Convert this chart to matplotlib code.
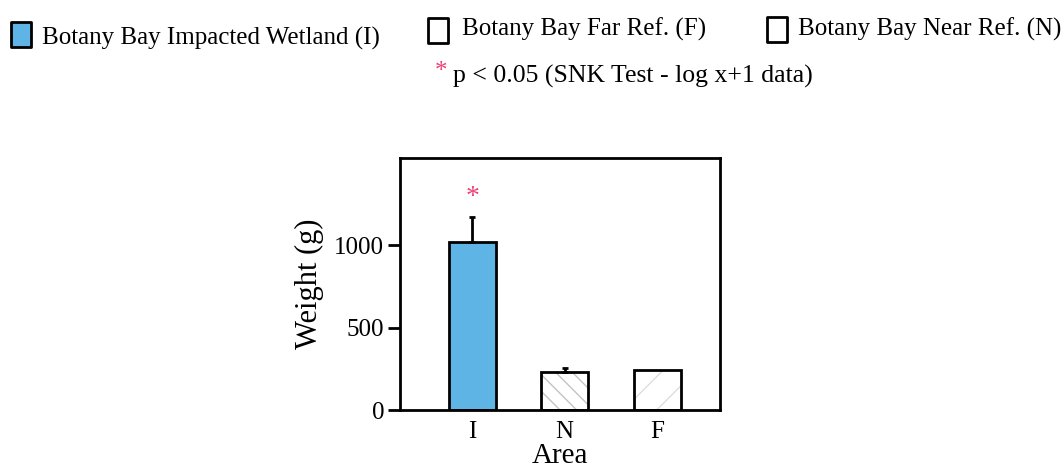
import matplotlib
matplotlib.use("Agg")
import matplotlib.pyplot as plt
from matplotlib.patches import Rectangle

plt.rcParams['font.family'] = ['Liberation Serif', 'DejaVu Serif']

# data
areas = ['I', 'N', 'F']
weights = [1020, 228, 242]
errors = [150, 25, 0]
legend_labels = ['Botany Bay Impacted Wetland (I)', 'Botany Bay Far Ref. (F)',
                 'Botany Bay Near Ref. (N)']
note = 'p < 0.05 (SNK Test - log x+1 data)'

blue = '#5fb4e6'
star_col = '#ee3f73'
W, H = 1064, 473

fig = plt.figure(figsize=(W / 100, H / 100), dpi=100)
ax = fig.add_axes([400 / W, 1 - 410 / H, 320 / W, 252 / H])

x = range(len(areas))
faces = [blue, 'white', 'white']
hatches = [None, '\\\\', '/']
hatch_cols = ['#c8c8c8', '#c4c4c4', '#dedede']
for xi, w, fc, h, hc in zip(x, weights, faces, hatches, hatch_cols):
    ax.bar(xi, w, width=0.51, color=fc, hatch=h, edgecolor=hc, linewidth=0)
    ax.bar(xi, w, width=0.51, fill=False, edgecolor='black', linewidth=2, zorder=3)
for xi, w, e in zip(x, weights, errors):
    if e > 0:
        ax.errorbar(xi, w, yerr=[[0], [e]], color='black', capsize=2.5,
                    elinewidth=2, capthick=2, zorder=4)

ax.text(0, weights[0] + errors[0] + 120, '*', color=star_col, ha='center',
        va='center', fontsize=20)

ax.set_xlim(-0.78, 2.68)
ax.set_ylim(0, 1530)
ax.set_yticks([0, 500, 1000])
ax.set_xticks(list(x))
ax.set_xticklabels(areas)
ax.tick_params(axis='y', direction='out', length=8.5, width=2, labelsize=18, pad=3)
ax.tick_params(axis='x', length=0, labelsize=18, pad=8)
for s in ax.spines.values():
    s.set_linewidth(2)
ax.set_ylabel('Weight (g)', fontsize=22, labelpad=7)
ax.set_xlabel('Area', fontsize=21, labelpad=0)

# legend row drawn by hand, the three entries are not evenly spaced
box_x = [11, 428, 767]
box_y = [22, 18, 17]
box_fc = [blue, 'white', 'white']
text_x = [42, 462, 798]
text_y = [36, 27, 27]
for bx, by, fc, tx, ty, lab in zip(box_x, box_y, box_fc, text_x, text_y, legend_labels):
    fig.add_artist(Rectangle((bx / W, 1 - (by + 25) / H), 20 / W, 25 / H,
                             transform=fig.transFigure, facecolor=fc,
                             edgecolor='black', linewidth=2, joinstyle='round'))
    fig.text(tx / W, 1 - ty / H, lab, fontsize=18, va='center_baseline')

fig.text(441 / W, 1 - 72 / H, '*', color=star_col, fontsize=18, ha='center', va='center')
fig.text(453 / W, 1 - 74 / H, note, fontsize=18.5, va='center_baseline')

fig.savefig('out.png', dpi=100)
